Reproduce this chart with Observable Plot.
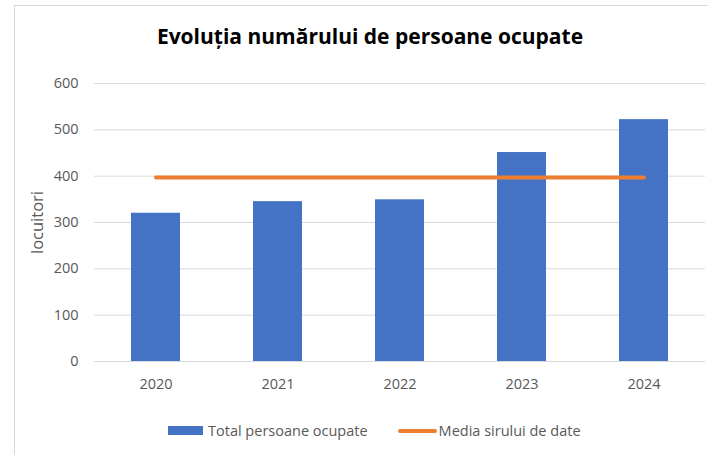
<!DOCTYPE html>
<html>
<head>
<meta charset="utf-8">
<script src="https://cdn.jsdelivr.net/npm/d3@7"></script>
<script src="https://cdn.jsdelivr.net/npm/@observablehq/plot@0.6"></script>
<style>
  html, body { margin: 0; padding: 0; background: #fff; }
  #wrap { position: relative; width: 708px; height: 455px; overflow: hidden; font-family: "Open Sans", sans-serif; }
  #frame { position: absolute; left: 14px; top: 5px; width: 720px; height: 480px; border: 1px solid #d9d9d9; box-sizing: border-box; }
  #title { position: absolute; left: 0; width: 740px; top: 22px; text-align: center; font-weight: bold; font-size: 21px; color: #000; white-space: nowrap; }
  #chart { position: absolute; left: 0; top: 0; }
  #legend { position: absolute; top: 421px; left: 168px; font-size: 14.5px; color: #595959; white-space: nowrap; display: flex; align-items: center; }
  .sw-bar { display: inline-block; width: 35px; height: 9px; background: #4472C4; margin-right: 5px; }
  .sw-line { display: inline-block; width: 39px; height: 4px; border-radius: 2px; background: #ED7D31; margin-left: 30px; margin-right: 2px; }
</style>
</head>
<body>
<div id="wrap">
  <div id="frame"></div>
  <div id="title">Evoluția numărului de persoane ocupate</div>
  <div id="chart"></div>
  <div id="legend"><span class="sw-bar"></span><span>Total persoane ocupate</span><span class="sw-line"></span><span>Media sirului de date</span></div>
</div>
<script>
const years = ["2020", "2021", "2022", "2023", "2024"];
const totalPersoane = [320, 345, 349, 451, 522];
const mediaSir = [397, 397, 397, 397, 397];
const yTicks = [0, 100, 200, 300, 400, 500, 600];
const yLabel = ["locuitori"];

const barData = years.map((y, i) => ({year: y, value: totalPersoane[i]}));
const lineData = years.map((y, i) => ({year: y, value: mediaSir[i]}));

const chart = Plot.plot({
  width: 708,
  height: 400,
  marginTop: 83,
  marginBottom: 39,
  marginLeft: 94,
  marginRight: 3,
  style: {fontFamily: "Open Sans, sans-serif", fontSize: "14.5px", color: "#595959", background: "transparent"},
  x: {domain: years, paddingInner: 0.6, paddingOuter: 0.3},
  y: {domain: [0, 600]},
  marks: [
    Plot.gridY(yTicks, {stroke: "#d9d9d9", strokeOpacity: 1, strokeWidth: 1}),
    Plot.barY(barData, {x: "year", y: "value", fill: "#4472C4"}),
    Plot.lineY(lineData, {x: "year", y: "value", stroke: "#ED7D31", strokeWidth: 4, strokeLinecap: "round"}),
    Plot.axisY(yTicks, {tickSize: 0, tickPadding: 16, fontSize: 14.5, label: null, fill: "#595959"}),
    Plot.axisX({tickSize: 0, tickPadding: 17, fontSize: 14.5, label: null, fill: "#595959"}),
    Plot.text(yLabel, {text: d => d, frameAnchor: "left", textAnchor: "middle", rotate: -90, dx: -57, fontSize: 16.5, fill: "#595959"})
  ]
});
document.getElementById("chart").appendChild(chart);
</script>
</body>
</html>
